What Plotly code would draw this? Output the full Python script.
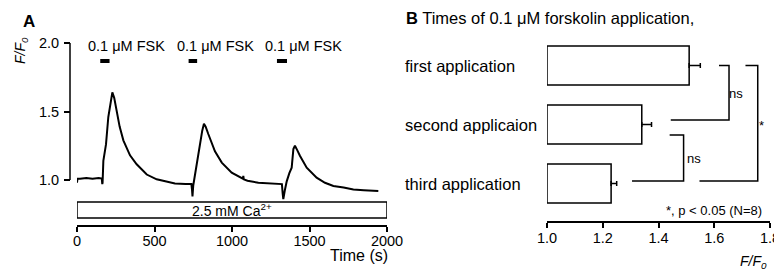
import plotly.graph_objects as go

W, H = 774, 271

# ---------------- data ----------------
# Panel A: F/F0 trace
time_s = [0, 3, 20, 60, 100, 140, 160, 163, 165, 170, 187, 202, 215, 228, 240, 256, 275, 299,
          320, 342, 385, 450, 514, 600, 632, 700, 738, 742, 745, 750, 760, 772, 794, 808, 819,
          830, 847, 890, 934, 998, 1070, 1073, 1076, 1100, 1170, 1250, 1318, 1322, 1327, 1331,
          1340, 1353, 1370, 1385, 1396, 1406, 1420, 1439, 1482, 1546, 1600, 1654, 1720, 1783,
          1850, 1900, 1944]
ff0 = [0.98, 1.01, 1.01, 1.015, 1.01, 1.015, 1.01, 0.97, 0.98, 1.14, 1.26, 1.46, 1.56, 1.64,
       1.60, 1.49, 1.39, 1.29, 1.23, 1.18, 1.115, 1.04, 1.005, 0.98, 0.975, 0.97, 0.97, 0.93,
       0.88, 0.96, 1.03, 1.115, 1.26, 1.36, 1.41, 1.39, 1.336, 1.21, 1.127, 1.054, 1.01, 1.03,
       1.005, 0.995, 0.98, 0.975, 0.97, 0.97, 0.90, 0.86, 0.92, 0.99, 1.05, 1.09, 1.226, 1.25,
       1.22, 1.176, 1.09, 1.017, 0.98, 0.956, 0.945, 0.93, 0.925, 0.92, 0.92]
fsk_start = [150, 720, 1290]
fsk_end = [210, 775, 1355]
fsk_label = "0.1 μM FSK"
ca_label = "2.5 mM Ca<sup>2+</sup>"
a_xticks = [0, 500, 1000, 1500, 2000]
a_yticks = [1.0, 1.5, 2.0]

# Panel B: mean F/F0 with SEM
categories = ["first application", "second applicaion", "third application"]
means = [1.51, 1.34, 1.23]
sems = [0.04, 0.035, 0.02]
b_xticks = [1.0, 1.2, 1.4, 1.6, 1.8]

FONT = "Liberation Sans, Arial, sans-serif"


def px(x):
    return x / W


def py(y):
    return 1 - y / H


fig = go.Figure()

# Panel A trace
fig.add_trace(go.Scatter(x=time_s, y=ff0, mode="lines", xaxis="x", yaxis="y",
                         line=dict(color="black", width=2), showlegend=False,
                         hoverinfo="skip"))

# Panel B bars
fig.add_trace(go.Bar(y=categories, x=[m - 1.0 for m in means], base=[1.0] * len(means),
                     orientation="h", xaxis="x2", yaxis="y2", width=0.66,
                     marker=dict(color="white", line=dict(color="black", width=1.5)),
                     showlegend=False, hoverinfo="skip"))
fig.add_trace(go.Scatter(y=categories, x=means, mode="markers", xaxis="x2", yaxis="y2",
                         marker=dict(size=1, opacity=0),
                         error_x=dict(type="data", symmetric=False, array=sems,
                                      arrayminus=[0] * len(sems), color="black",
                                      thickness=1.5, width=2.5),
                         showlegend=False, hoverinfo="skip"))

shapes = []
annotations = []

# Panel A y-axis line (1.0 to 2.0 only)
shapes.append(dict(type="line", xref="paper", yref="y", x0=px(70), x1=px(70),
                   y0=a_yticks[0], y1=a_yticks[-1], line=dict(color="black", width=1.5)))
# FSK bars and labels
for s, e in zip(fsk_start, fsk_end):
    shapes.append(dict(type="rect", xref="x", yref="paper", x0=s, x1=e,
                       y0=py(63), y1=py(59), fillcolor="black", line=dict(width=0)))
    annotations.append(dict(xref="x", yref="paper", x=s, y=py(46), xshift=-14,
                            text=fsk_label, showarrow=False, xanchor="left", yanchor="middle",
                            font=dict(size=14.5, color="black", family=FONT)))
# Ca bar
shapes.append(dict(type="rect", xref="x", yref="paper", x0=a_xticks[0], x1=a_xticks[-1],
                   y0=py(218), y1=py(202), fillcolor="white",
                   line=dict(color="black", width=1.5)))
annotations.append(dict(xref="x", yref="paper", x=(a_xticks[0] + a_xticks[-1]) / 2, y=py(210),
                        text=ca_label, showarrow=False, xanchor="center", yanchor="middle",
                        font=dict(size=14, color="black", family=FONT)))
annotations.append(dict(xref="paper", yref="paper", x=px(29), y=py(21), text="<b>A</b>",
                        showarrow=False, xanchor="center", yanchor="middle",
                        font=dict(size=17, color="black", family=FONT)))
annotations.append(dict(xref="paper", yref="paper", x=px(21), y=py(51),
                        text="<i>F/F<sub>0</sub></i>", textangle=-90, showarrow=False,
                        xanchor="center", yanchor="middle",
                        font=dict(size=14, color="black", family=FONT)))
annotations.append(dict(xref="paper", yref="paper", x=px(390), y=py(255), text="Time (s)",
                        showarrow=False, xanchor="right", yanchor="middle",
                        font=dict(size=16, color="black", family=FONT)))

# Panel B texts
annotations.append(dict(xref="paper", yref="paper", x=px(404), y=py(18),
                        text="<b>B</b> Times of 0.1 μM forskolin application,",
                        showarrow=False, xanchor="left", yanchor="middle",
                        font=dict(size=16.5, color="black", family=FONT)))
for c in categories:
    annotations.append(dict(xref="paper", yref="y2", x=px(403), y=c, text=c,
                            showarrow=False, xanchor="left", yanchor="middle",
                            font=dict(size=16.5, color="black", family=FONT)))

# significance brackets (x in F/F0 units, y in category index)
brackets = [
    ([1.617, 1.653, 1.653, 1.444], [0.0, 0.0, 0.924, 0.924]),
    ([1.44, 1.49, 1.49, 1.305], [1.178, 1.178, 1.958, 1.958]),
    ([1.712, 1.756, 1.756, 1.547], [0.0, 0.0, 1.958, 1.958]),
]
for bx, by in brackets:
    path = "M {},{} ".format(bx[0], by[0]) + " ".join(
        "L {},{}".format(a, b) for a, b in zip(bx[1:], by[1:]))
    shapes.append(dict(type="path", xref="x2", yref="y2", path=path,
                       line=dict(color="black", width=1.5)))
annotations.append(dict(xref="paper", yref="paper", x=px(736), y=py(94), text="ns",
                        showarrow=False, xanchor="center", yanchor="middle",
                        font=dict(size=13, color="black", family=FONT)))
annotations.append(dict(xref="paper", yref="paper", x=px(694), y=py(158), text="ns",
                        showarrow=False, xanchor="center", yanchor="middle",
                        font=dict(size=13, color="black", family=FONT)))
annotations.append(dict(xref="paper", yref="paper", x=px(761), y=py(126), text="*",
                        showarrow=False, xanchor="center", yanchor="middle",
                        font=dict(size=13, color="black", family=FONT)))
annotations.append(dict(xref="paper", yref="paper", x=px(764), y=py(210),
                        text="*, p < 0.05 (N=8)", showarrow=False, xanchor="right",
                        yanchor="middle", font=dict(size=13, color="black", family=FONT)))
annotations.append(dict(xref="paper", yref="paper", x=px(769), y=py(262),
                        text="<i>F/F<sub>0</sub></i>", showarrow=False, xanchor="right",
                        yanchor="middle", font=dict(size=14, color="black", family=FONT)))

axis_common = dict(showgrid=False, zeroline=False, ticks="outside", tickwidth=1.5,
                   tickcolor="black", linecolor="black", linewidth=1.5, automargin=False,
                   tickfont=dict(size=14.5, color="black", family=FONT))

fig.update_layout(
    width=W, height=H, autosize=False,
    margin=dict(l=0, r=0, t=0, b=0, pad=0, autoexpand=False),
    paper_bgcolor="white", plot_bgcolor="rgba(0,0,0,0)",
    showlegend=False,
    xaxis=dict(domain=[px(77), px(387)], range=[a_xticks[0], a_xticks[-1]], anchor="free",
               position=py(226), showline=True, tickvals=a_xticks, ticklen=5,
               ticklabelstandoff=-3, **axis_common),
    yaxis=dict(domain=[py(234.8), py(36.2)], range=[0.6, 2.05], anchor="free",
               position=px(70), showline=False, tickvals=a_yticks, tickformat=".1f",
               ticklen=6, ticklabelstandoff=2, **axis_common),
    xaxis2=dict(domain=[px(547), px(770)], range=[b_xticks[0], b_xticks[-1]], anchor="free",
                position=py(222), showline=True, tickvals=b_xticks, tickformat=".1f",
                ticklen=5, ticklabelstandoff=-2, ticklabeloverflow="allow", **axis_common),
    yaxis2=dict(domain=[py(213), py(36)], range=[2.5, -0.5], anchor="x2", type="category",
                visible=False, categoryorder="array", categoryarray=categories),
    shapes=shapes,
    annotations=annotations,
)

fig.write_html(
    "out.html",
    config={"responsive": False, "displayModeBar": False},
    post_script="document.body.style.margin='0';document.body.style.overflow='hidden';",
)
